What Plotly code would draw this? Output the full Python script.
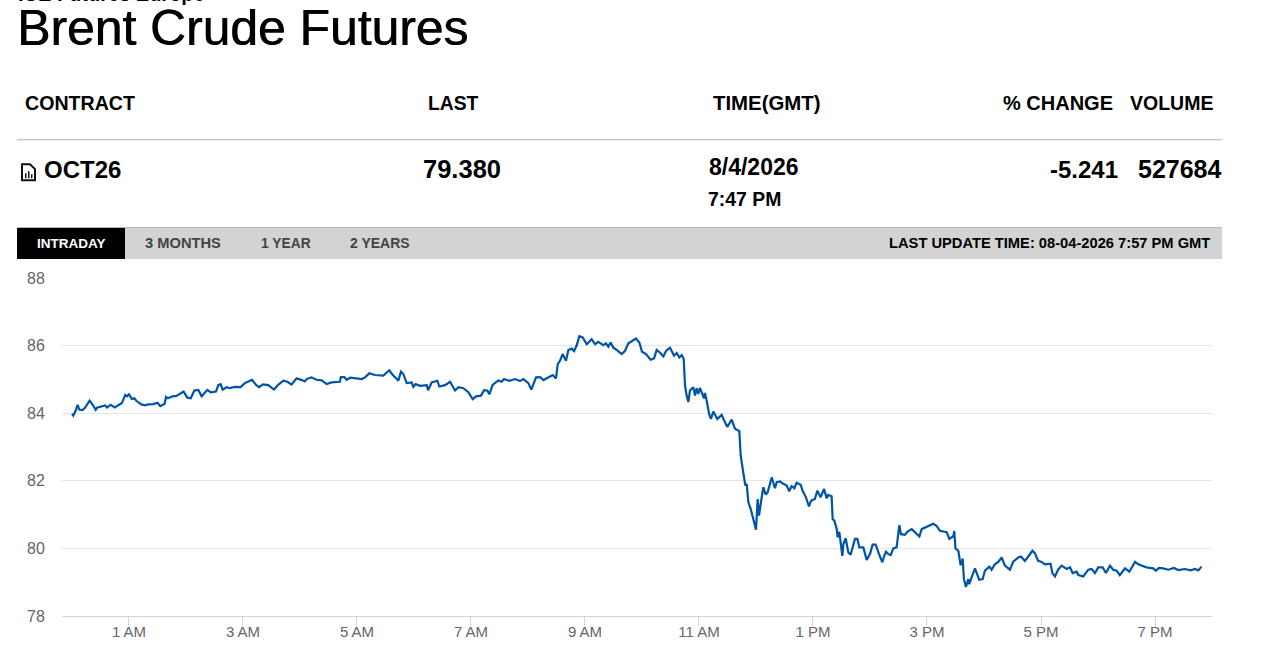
"""Brent Crude Futures intraday quote panel."""

import pandas as pd
import plotly.graph_objects as go

# minutes after midnight GMT
MINUTES = [
    0, 1.4, 3.5, 6, 7.7, 11, 13.7, 16, 18.6, 21.8, 25, 26.3, 31, 35, 37, 40.7, 45, 50, 52.6, 56, 58, 60,
    63, 65.6, 68, 73, 77, 80, 85.6, 90, 93, 97.5, 99, 101, 106, 110, 113.7, 117.5, 121.4, 125, 128.8, 133,
    136.5, 142.5, 146, 151.6, 154, 156.5, 158.6, 163, 166, 171.6, 177.5, 182, 185.6, 189.6, 194, 197, 201,
    206.7, 212.6, 217, 222.5, 226.7, 231, 236.5, 242, 245, 247, 252, 257.5, 262.8, 268, 273.3, 282, 283,
    286.7, 289, 293, 299.6, 305, 308.4, 313, 319, 327.7, 334, 337.7, 342, 343.5, 346.3, 348.8, 352.3,
    357.6, 359.3, 361.8, 366.3, 373.4, 374.8, 378.6, 384.6, 386.7, 392.7, 398, 403.2, 406.7, 412, 417.2,
    421.8, 425.3, 430.6, 433.7, 437.2, 439.3, 442.8, 448.8, 452.3, 454.8, 460.4, 466.4, 471.6, 475.1,
    480.4, 483.5, 488.5, 492.7, 496.2, 501.4, 506, 509.5, 511.3, 513.7, 516.5, 520, 522.5, 526, 528.5,
    531.3, 534, 537.6, 541.8, 547, 550.6, 554, 559.3, 562, 564.6, 567, 569.9, 573.4, 578.6, 582, 585.7,
    589.2, 593.7, 597.2, 600, 604.3, 609, 612.7, 615.5, 619, 622.5, 625.3, 629.5, 633.7, 636.5, 639.3,
    641.8, 643.9, 645.3, 647, 648.8, 650.5, 654, 655.8, 657.5, 659.3, 661, 665.3, 666.3, 668, 670.9,
    672.6, 675, 679.3, 683.9, 687.4, 689.8, 694.4, 697.9, 702.5, 703.9, 706, 708.8, 710.2, 711.9, 714.4,
    717.9, 720, 721.8, 723.2, 726, 727.7, 730.2, 732.3, 736.5, 740, 741.8, 745.3, 748.8, 752.3, 755,
    757.5, 760.4, 762.8, 767, 769, 772.6, 775.8, 777.9, 782, 784.6, 788, 791.6, 794.4, 796, 799.6, 800.7,
    802.5, 805, 806, 807.7, 810.9, 812, 814.4, 817.2, 819.6, 824.2, 826.7, 828.8, 833, 836.5, 840, 842.8,
    846, 849.5, 853, 854.7, 856.8, 859.3, 861.8, 864.6, 868, 870.9, 872.6, 876.8, 879.3, 883.9, 887.4,
    892, 894.4, 899.6, 906.6, 910, 913.6, 920.7, 923.5, 927.7, 928.7, 930, 933, 935.4, 937.5, 938.9, 941,
    943.5, 944.5, 947, 950.5, 955, 958.6, 961, 965.6, 968, 971.5, 975, 978.6, 982, 987.3, 990.8, 996,
    999, 1003, 1006.6, 1011, 1013.6, 1017, 1020.7, 1024, 1030, 1032, 1034.7, 1038, 1041.7, 1047, 1050.5,
    1053.3, 1057.5, 1059.3, 1064.5, 1069.8, 1073.3, 1076.8, 1080.3, 1084.9, 1088.4, 1092.6, 1096, 1099.6,
    1103, 1108.4, 1113, 1119, 1122.4, 1131, 1138.2, 1141, 1144, 1148.7, 1154, 1160, 1164.5, 1171.5,
    1177.5, 1182, 1185.6, 1189,
]
PRICES = [
    83.98, 83.93, 84.05, 84.25, 84.11, 84.09, 84.16, 84.27, 84.37, 84.25, 84.10, 84.16, 84.19, 84.23, 84.17,
    84.25, 84.17, 84.25, 84.30, 84.54, 84.50, 84.56, 84.42, 84.44, 84.36, 84.26, 84.23, 84.26, 84.27, 84.31,
    84.21, 84.28, 84.48, 84.44, 84.50, 84.51, 84.57, 84.64, 84.46, 84.44, 84.67, 84.69, 84.50, 84.69, 84.62,
    84.64, 84.83, 84.86, 84.70, 84.77, 84.74, 84.78, 84.77, 84.89, 84.94, 84.99, 84.83, 84.77, 84.85, 84.83,
    84.70, 84.84, 84.96, 84.93, 84.85, 85.03, 84.98, 84.94, 85.01, 85.06, 84.99, 84.97, 84.86, 84.91, 84.93,
    85.07, 85.07, 84.99, 85.05, 85.04, 85.01, 85.06, 85.18, 85.13, 85.11, 85.27, 85.13, 85.01, 84.96, 85.23,
    85.16, 84.89, 84.91, 84.78, 84.86, 84.81, 84.83, 84.68, 84.91, 84.96, 84.79, 84.83, 84.93, 84.67, 84.77,
    84.74, 84.62, 84.42, 84.50, 84.52, 84.68, 84.67, 84.56, 84.84, 84.97, 84.93, 85.01, 84.96, 85.01, 84.95,
    85.01, 84.89, 84.70, 85.06, 85.07, 84.98, 85.06, 85.13, 85.03, 85.45, 85.55, 85.75, 85.55, 85.87, 85.91,
    85.84, 86.01, 86.28, 86.24, 86.04, 86.19, 86.04, 86.11, 86.01, 86.07, 85.97, 86.09, 85.94, 85.87, 85.75,
    85.84, 86.07, 86.13, 86.21, 86.09, 85.82, 85.75, 85.58, 85.62, 85.87, 85.79, 85.68, 85.84, 85.94, 85.70,
    85.78, 85.65, 85.72, 85.60, 84.82, 84.52, 84.33, 84.67, 84.77, 84.52, 84.74, 84.57, 84.75, 84.44, 84.60,
    84.38, 83.95, 83.83, 84.05, 83.83, 83.95, 83.73, 83.59, 83.81, 83.54, 83.47, 82.75, 82.35, 81.86, 81.91,
    81.38, 81.17, 80.72, 80.55, 81.46, 80.97, 81.51, 81.81, 81.59, 81.66, 82.10, 81.78, 81.96, 81.98, 81.91,
    81.86, 81.69, 81.84, 81.78, 81.94, 81.88, 81.71, 81.51, 81.24, 81.41, 81.46, 81.71, 81.51, 81.76, 81.48,
    81.58, 81.54, 80.87, 80.82, 80.57, 80.33, 80.49, 79.78, 80.13, 80.30, 79.88, 79.81, 80.28, 80.28, 80.03,
    80.03, 79.66, 79.83, 80.11, 80.11, 79.83, 79.59, 79.76, 79.90, 79.83, 79.80, 80.00, 80.03, 80.69, 80.42,
    80.40, 80.49, 80.57, 80.47, 80.35, 80.57, 80.64, 80.73, 80.67, 80.52, 80.48, 80.28, 80.36, 80.52, 80.00,
    79.93, 79.50, 79.70, 79.09, 78.86, 79.09, 78.94, 79.14, 79.41, 79.07, 79.09, 79.34, 79.46, 79.37, 79.53,
    79.60, 79.73, 79.49, 79.37, 79.61, 79.73, 79.76, 79.63, 79.76, 79.93, 79.86, 79.63, 79.60, 79.53, 79.55,
    79.27, 79.17, 79.37, 79.49, 79.39, 79.44, 79.27, 79.31, 79.21, 79.17, 79.37, 79.39, 79.27, 79.44, 79.44,
    79.27, 79.49, 79.37, 79.34, 79.21, 79.41, 79.31, 79.60, 79.53, 79.44, 79.41, 79.34, 79.42, 79.41, 79.37,
    79.42, 79.36, 79.39, 79.35, 79.39, 79.35, 79.46,
]
X_TICKS = ["01:00", "03:00", "05:00", "07:00", "09:00", "11:00", "13:00", "15:00", "17:00", "19:00"]
X_LABELS = ["1 AM", "3 AM", "5 AM", "7 AM", "9 AM", "11 AM", "1 PM", "3 PM", "5 PM", "7 PM"]
Y_TICKS = [78, 80, 82, 84, 86, 88]

DAY = "2026-08-04"
FONT = "Liberation Sans"
LEFT, RIGHT, TOP, BOTTOM = 62, 1212, 278, 616.5


def px(x):
    return (x - LEFT) / (RIGHT - LEFT)


def py(y):
    return (BOTTOM - y) / (BOTTOM - TOP)


def label(text, x, y, size, anchor="left", color="#000000", bold=True, shadow=None):
    font = dict(family=FONT, size=size, color=color)
    if shadow:
        font["shadow"] = shadow
    return dict(
        text=f"<b>{text}</b>" if bold else text,
        xref="paper", yref="paper", x=px(x), y=py(y),
        xanchor=anchor, yanchor="middle", showarrow=False,
        borderpad=0, borderwidth=0, font=font,
    )


def box(x0, y0, x1, y1, fill):
    return dict(
        type="rect", xref="paper", yref="paper", layer="below",
        x0=px(x0), x1=px(x1), y0=py(y0), y1=py(y1),
        fillcolor=fill, line=dict(width=0),
    )


times = pd.Timestamp(DAY) + pd.to_timedelta(MINUTES, unit="m")

fig = go.Figure()
fig.add_trace(
    go.Scatter(
        x=times, y=PRICES, mode="lines",
        line=dict(color="#0054a6", width=2.2),
        hoverinfo="x+y", showlegend=False,
    )
)

annotations = [
    label("ICE Futures Europe", 18, -6, 20),
    label("Brent Crude Futures", 17, 28, 49.8, bold=False, shadow="0.7px 0 0 #000000"),
    label("CONTRACT", 25, 103, 19.6),
    label("LAST", 428, 103, 19.3),
    label("TIME(GMT)", 713, 103, 20.4),
    label("% CHANGE", 1003, 103, 20),
    label("VOLUME", 1130, 103, 19.5),
    label("OCT26", 44, 169, 24),
    label("79.380", 423, 169, 25.5),
    label("8/4/2026", 709, 166.5, 23),
    label("7:47 PM", 708, 199, 19.4),
    label("-5.241", 1118, 169, 24, anchor="right"),
    label("527684", 1222, 169, 25, anchor="right"),
    label("INTRADAY", 37, 243, 13.5, color="#ffffff"),
    label("3 MONTHS", 145, 243, 14.7, color="#444444"),
    label("1 YEAR", 261, 243, 13.8, color="#444444"),
    label("2 YEARS", 350, 243, 14, color="#444444"),
    label("LAST UPDATE TIME: 08-04-2026 7:57 PM GMT", 1210, 243, 14.7, anchor="right"),
]

shapes = [
    box(17, 139, 1222, 140, "#b3b3b3"),
    box(17, 227, 1222, 259, "#d3d3d3"),
    box(17, 227, 1222, 228, "#b8b8b8"),
    box(17, 228, 125, 259, "#000000"),
    # report icon next to the contract name
    dict(
        type="path", xref="paper", yref="paper", line=dict(color="#111111", width=2),
        path=(
            f"M {px(22)} {py(164)} L {px(30)} {py(164)} L {px(35)} {py(169)} "
            f"L {px(35)} {py(180)} L {px(22)} {py(180)} Z"
        ),
    ),
    box(25, 173, 26.5, 178, "#111111"),
    box(28, 171, 29.5, 178, "#111111"),
    box(31, 174, 32.5, 178, "#111111"),
]

fig.update_layout(
    width=1266, height=663,
    margin=dict(l=LEFT, r=1266 - RIGHT, t=TOP, b=663 - BOTTOM, pad=0),
    paper_bgcolor="#ffffff", plot_bgcolor="#ffffff",
    font=dict(family=FONT, color="#666666"),
    annotations=annotations, shapes=shapes,
    xaxis=dict(
        type="date",
        range=[pd.Timestamp(DAY) - pd.Timedelta(minutes=10.5), f"{DAY} 20:00"],
        tickvals=[f"{DAY} {t}" for t in X_TICKS], ticktext=X_LABELS,
        showgrid=False, zeroline=False,
        showline=True, linecolor="#ccd6eb", linewidth=1,
        ticks="outside", ticklen=9, tickcolor="#ccd6eb", tickwidth=1,
        ticklabelstandoff=-7,
        tickfont=dict(family=FONT, size=15, color="#666666"),
        automargin=False,
    ),
    yaxis=dict(
        range=[78, 88], tickvals=Y_TICKS,
        showgrid=True, gridcolor="#e6e6e6", gridwidth=1, zeroline=False,
        showline=False,
        ticks="outside", ticklen=13, tickcolor="rgba(0,0,0,0)",
        tickfont=dict(family=FONT, size=16, color="#666666"),
        automargin=False,
    ),
)

fig.write_html(
    "out.html",
    config={"displayModeBar": False},
    post_script="document.body.style.margin='0';document.body.style.overflow='hidden';",
)
